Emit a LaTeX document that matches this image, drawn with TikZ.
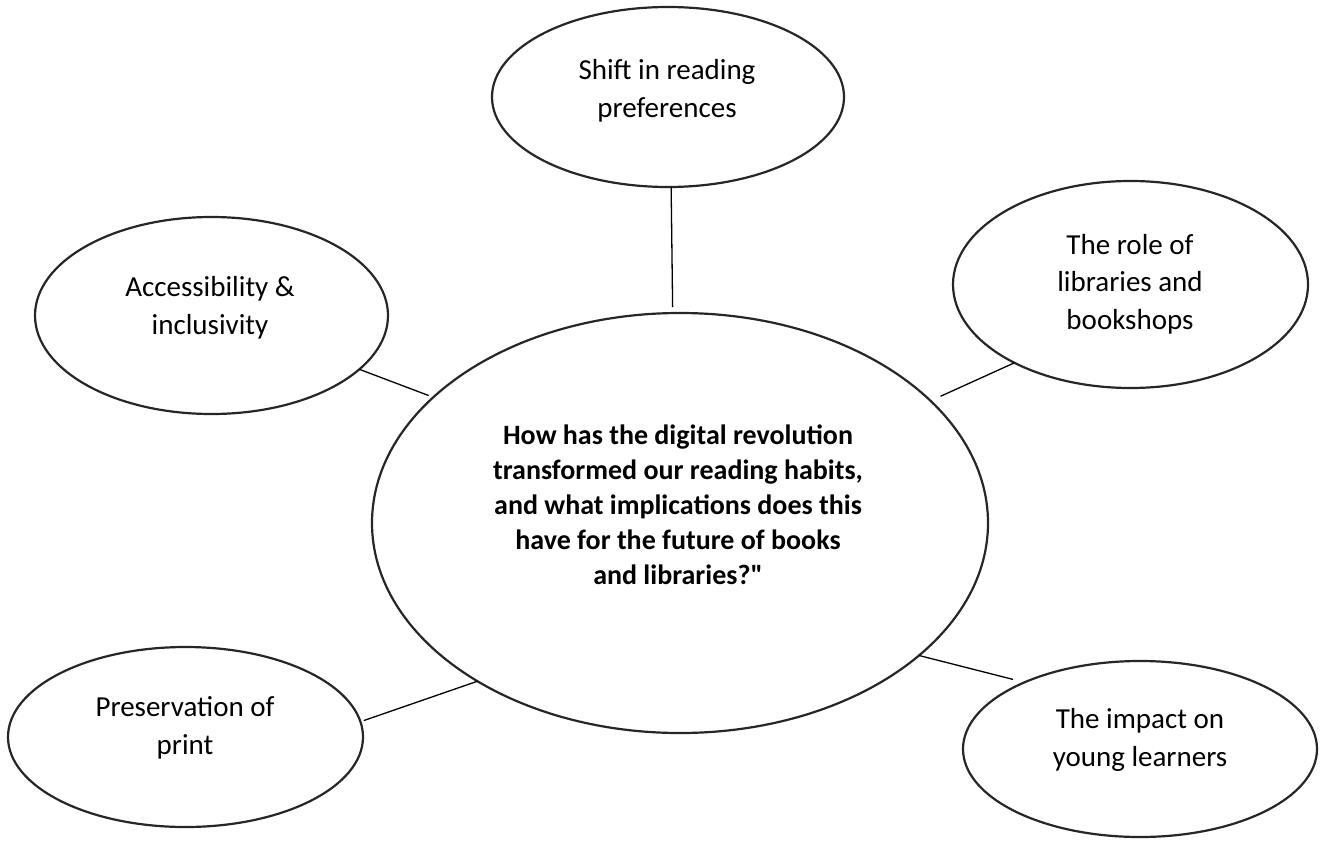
\documentclass[tikz,border=0pt]{standalone}
\usepackage{fontspec}
\setmainfont{Carlito}[Ligatures=TeXOff]
\usetikzlibrary{shapes.geometric}

\begin{document}
\begin{tikzpicture}[x=0.5pt,y=-0.5pt]
\tikzset{
  bubble/.style={draw=black!85,line width=1.1pt,ellipse,inner sep=0pt,outer sep=0pt},
  bubbletext/.style={align=center,inner sep=0pt,font=\fontsize{14.5}{18.75}\selectfont},
  hubtext/.style={align=center,inner sep=0pt,font=\bfseries\fontsize{14}{17.5}\selectfont},
  link/.style={draw=black,line width=0.65pt}
}
\useasboundingbox (0,0) rectangle (1320,840);
% central question
\node[bubble,minimum width=308pt,minimum height=210pt] (hub) at (680,523) {};
\node[hubtext] (hubT) at (678,505) {How has the digital revolution\\transformed our reading habits,\\and what implications does this\\have for the future of books\\and libraries?"};
% topics
\node[bubble,minimum width=176pt,minimum height=90pt] (shift) at (668,97) {};
\node[bubbletext] (shiftT) at (667,91) {Shift in reading\\preferences};
\node[bubble,minimum width=176.5pt,minimum height=98.5pt] (access) at (211.5,315.5) {};
\node[bubbletext] (accessT) at (210,308) {Accessibility \&\\inclusivity};
\node[bubble,minimum width=177.5pt,minimum height=103.5pt] (role) at (1130.5,284.5) {};
\node[bubbletext] (roleT) at (1130,284) {The role of\\libraries and\\bookshops};
\node[bubble,minimum width=177.5pt,minimum height=90pt] (preserve) at (185.5,737) {};
\node[bubbletext] (preserveT) at (185,728) {Preservation of\\print};
\node[bubble,minimum width=177pt,minimum height=88pt] (impact) at (1140,749) {};
\node[bubbletext] (impactT) at (1140,740) {The impact on\\young learners};
% connectors
\draw[link,shorten >=3pt] (shift.-88) -- (hub.92);
\draw[link,shorten >=2.5pt] (access.-20) -- (hub.153);
\draw[link,shorten >=5.5pt] (role.214) -- (hub.26);
\draw[link,shorten <=1.75pt] (preserve.5) -- (hub.218);
\draw[link,shorten >=6pt] (hub.-29) -- (impact.150);
\end{tikzpicture}
\end{document}
